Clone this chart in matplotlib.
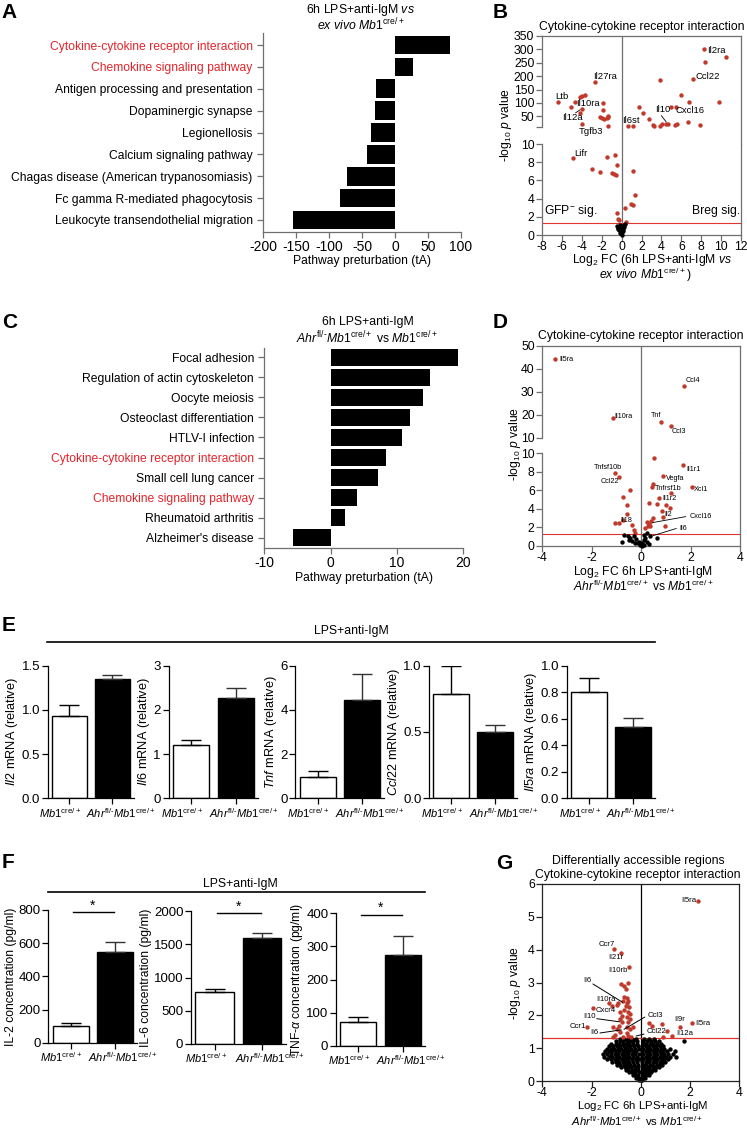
import numpy as np
import matplotlib
matplotlib.use('Agg')
import matplotlib.pyplot as plt
from matplotlib.lines import Line2D
from matplotlib.transforms import ScaledTranslation

plt.rcParams['font.family'] = ['Liberation Sans', 'DejaVu Sans']
plt.rcParams['mathtext.fontset'] = 'custom'
plt.rcParams['mathtext.rm'] = 'Liberation Sans'
plt.rcParams['mathtext.it'] = 'Liberation Sans:italic'
plt.rcParams['mathtext.bf'] = 'Liberation Sans:bold'
plt.rcParams['axes.unicode_minus'] = False

# ---------------- data ----------------
A_labels = ["Cytokine-cytokine receptor interaction", "Chemokine signaling pathway",
            "Antigen processing and presentation", "Dopaminergic synapse", "Legionellosis",
            "Calcium signaling pathway", "Chagas disease (American trypanosomiasis)",
            "Fc gamma R-mediated phagocytosis", "Leukocyte transendothelial migration"]
A_values = [83, 27, -29, -30, -37, -42, -73, -84, -155]

C_labels = ["Focal adhesion", "Regulation of actin cytoskeleton", "Oocyte meiosis",
            "Osteoclast differentiation", "HTLV-I infection",
            "Cytokine-cytokine receptor interaction", "Small cell lung cancer",
            "Chemokine signaling pathway", "Rheumatoid arthritis", "Alzheimer's disease"]
C_values = [19.2, 15.0, 13.9, 12.0, 10.7, 8.3, 7.1, 3.9, 2.1, -5.6]
highlight = ["Cytokine-cytokine receptor interaction", "Chemokine signaling pathway"]

# Panel B volcano (log2FC, -log10 p)
B_sig_x = [8.26, 10.5, 8.4, 7.18, 3.88, -2.7, 5.94, 6.78, 9.8, 4.92, 5.5, 1.75, 2.12, 2.73,
           3.14, 3.24, 3.9, 4.1, 4.5, 4.65, 5.4, 5.55, 6.68, 7.86, 0.6, 1.15,
           -6.4, -5.06, -4.72, -4.15, -3.95, -3.68, -4.0, -4.18, -3.95, -1.85, -1.82, -2.22,
           -2.0, -1.8, -1.4, -1.35, -1.45, -1.35,
           -4.92, -1.45, -0.67, -0.47, -3.0, -2.19, -0.98, -0.78, -0.57, 1.18, 1.32, 0.98,
           1.11, 0.3, -0.5, -0.4, 0.44, -0.3]
B_sig_y = [301, 273, 254, 188, 186, 178, 130, 102, 105, 85, 86, 84, 61, 39,
           18, 14, 14, 22, 21, 22, 16, 20, 30, 16, 14, 14,
           103, 84, 103, 121, 127, 131, 78, 61, 20, 100, 74, 49,
           42, 40, 46, 52, 42, 14,
           8.5, 8.6, 8.8, 7.7, 7.25, 6.9, 6.8, 6.75, 6.55, 7.05, 4.45, 3.45,
           3.25, 3.0, 2.4, 1.8, 1.45, 1.65]
B_ns_x = [-0.5, -0.4, -0.3, -0.2, -0.1, 0.0, 0.1, 0.2, -0.25, 0.05, -0.15, 0.15, -0.35, 0.25, -0.05, 0.3]
B_ns_y = [1.0, 0.8, 0.9, 1.1, 0.6, 0.3, 0.7, 1.1, 0.5, 0.05, 0.2, 0.4, 0.65, 0.85, 0.95, 1.2]
B_genes = ["Il2ra", "Ccl22", "Il27ra", "Ltb", "Il10ra", "Il12a", "Tgfb3", "Il6st", "Il10", "Cxcl16", "Lifr"]
B_gene_x = [8.6, 7.39, -2.87, -6.71, -4.55, -5.97, -4.35, 0.1, 3.37, 5.43, -4.79]
B_gene_y = [295, 197, 199, 123, 97, 46, -7, 35, 77, 72, 8.97]

# Panel D volcano
D_sig_x = [-3.48, 1.75, -1.15, 0.79, 1.22,
           0.53, 1.71, -1.07, -0.88, 0.87, 2.05, -0.45, 0.46, 0.44, 1.19, -0.75, 0.74, 0.33,
           0.63, 0.99, 1.17, -0.59, -0.56, 0.85, 0.9, 0.98, 0.46, 0.33, 0.27, 0.36, 0.22,
           -1.05, -0.9, -0.36, -0.28, -0.25, -0.72, 0.15, 0.4]
D_sig_y = [44.2, 32.7, 18.4, 17.0, 14.9,
           9.5, 8.7, 7.9, 7.4, 7.5, 6.4, 6.0, 6.7, 6.3, 5.7, 5.3, 5.2, 4.6,
           4.5, 4.4, 4.1, 4.4, 3.4, 3.7, 3.1, 2.1, 3.0, 2.4, 2.15, 2.1, 2.6,
           2.45, 2.45, 2.2, 1.7, 1.35, 2.8, 1.9, 2.7]
D_ns_x = [-0.79, -0.69, -0.52, -0.45, -0.38, -0.2, -0.12, -0.05, 0.05, 0.1, 0.11, 0.17, 0.22,
          0.25, 0.3, 0.63, -0.25, -0.5, 0.02, 0.12, -0.08, 0.35, -0.3]
D_ns_y = [0.44, 1.17, 1.1, 0.8, 0.55, 0.75, 0.25, 0.1, 0.3, 0.6, 1.17, 0.85, 1.35,
          0.45, 0.2, 0.88, 0.3, 0.6, 0.02, 0.05, 0.45, 1.0, 1.0]
D_genes = ["Il5ra", "Ccl4", "Il10ra", "Tnf", "Ccl3", "Tnfsf10b", "Ccl22", "Il1r1", "Vegfa",
           "Tnfrsf1b", "Xcl1", "Il1r2", "Il2", "Cxcl16", "Il6", "Il18"]
D_gene_x = [-3.3, 1.8, -1.09, 0.41, 1.25, -1.91, -1.63, 1.81, 1.0, 0.57, 2.14, 0.86, 0.96, 1.95, 1.56, -0.83]
D_gene_y = [44.2, 35.0, 19.4, 19.6, 12.9, 8.5, 6.9, 8.2, 7.3, 6.13, 6.06, 5.07, 3.32, 3.18, 1.9, 2.7]

# Panel E qPCR
E_genes = ["Il2", "Il6", "Tnf", "Ccl22", "Il5ra"]
E_ctrl = [0.93, 1.21, 0.98, 0.79, 0.80]
E_ctrl_err = [0.125, 0.11, 0.27, 0.21, 0.105]
E_ko = [1.35, 2.26, 4.45, 0.50, 0.54]
E_ko_err = [0.05, 0.24, 1.16, 0.055, 0.068]
E_yticks = [[0.0, 0.5, 1.0, 1.5], [0, 1, 2, 3], [0, 2, 4, 6], [0.0, 0.5, 1.0],
            [0.0, 0.2, 0.4, 0.6, 0.8, 1.0]]
E_yticklabels = [["0.0", "0.5", "1.0", "1.5"], ["0", "1", "2", "3"], ["0", "2", "4", "6"],
                 ["0.0", "0.5", "1.0"], ["0.0", "0.2", "0.4", "0.6", "0.8", "1.0"]]

# Panel F ELISA
F_names = ["IL-2", "IL-6", r"TNF-$\alpha$"]
F_ctrl = [100, 786, 72.5]
F_ctrl_err = [17, 36, 13]
F_ko = [549, 1589, 274]
F_ko_err = [60, 75, 58]
F_yticks = [[0, 200, 400, 600, 800], [0, 500, 1000, 1500, 2000], [0, 100, 200, 300, 400]]
F_sig = [785, 1965, 395]

HY = "\u2010"
groups = [r"$\mathit{Mb1}^{\mathrm{cre/+}}$",
          r"$\mathit{Ahr}^{\mathrm{fl/" + HY + r"}}\mathit{Mb1}^{\mathrm{cre/+}}$"]
ahr_vs = (r"$\mathit{Ahr}^{\mathrm{fl/" + HY +
          r"}}\mathit{Mb1}^{\mathrm{cre/+}}$ vs $\mathit{Mb1}^{\mathrm{cre/+}}$")

# Panel G volcano (ATAC)
G_sig = [(2.31, 5.47), (-1.09, 4.01), (-0.82, 3.90), (-0.48, 3.46), (-0.81, 2.94), (-0.68, 2.90),
         (-0.51, 2.97), (-0.62, 2.80), (-0.68, 2.57), (-0.58, 2.52), (-0.51, 2.45), (-0.71, 2.45),
         (-0.58, 2.39), (-0.91, 2.37), (-0.95, 2.30), (-1.16, 2.28), (-0.62, 2.28), (-0.47, 2.24),
         (-0.68, 2.16), (-0.85, 2.11), (-0.51, 2.11), (-0.44, 2.03), (-0.78, 1.99), (-0.58, 1.94),
         (-0.85, 1.88), (-0.44, 1.89), (-0.76, 1.79), (-0.51, 1.79), (-0.87, 1.69), (-0.58, 1.63),
         (-0.98, 1.58), (-0.44, 1.58), (-1.14, 1.65), (-0.85, 1.48), (-0.58, 1.45), (-1.05, 1.40),
         (-0.51, 1.38), (-1.12, 1.33), (-0.71, 1.33), (-0.41, 1.33), (-1.96, 2.22), (-2.17, 1.64),
         (-1.28, 2.39), (-0.30, 1.65),
         (0.35, 1.78), (0.44, 1.68), (0.87, 1.73), (1.08, 1.53), (0.89, 1.33), (1.28, 1.37),
         (1.59, 1.65), (2.06, 1.77)]
# non-significant regions, read row by row (-log10 p, list of log2FC)
G_ns_rows = [
    (0.03, [-0.06, 0.0, 0.06]),
    (0.10, [-0.18, -0.09, 0.08, 0.17]),
    (0.18, [-0.33, -0.22, -0.11, 0.1, 0.21, 0.32]),
    (0.26, [-0.47, -0.35, -0.22, -0.09, 0.08, 0.2, 0.32, 0.42]),
    (0.34, [-0.62, -0.5, -0.37, -0.24, -0.1, 0.07, 0.2, 0.33, 0.46, 0.58]),
    (0.42, [-0.8, -0.66, -0.52, -0.38, -0.24, -0.1, 0.07, 0.21, 0.35, 0.49, 0.63, 0.74]),
    (0.50, [-0.98, -0.84, -0.7, -0.56, -0.42, -0.28, -0.12, 0.08, 0.22, 0.36, 0.5, 0.64, 0.78, 0.88]),
    (0.58, [-1.18, -1.02, -0.88, -0.74, -0.6, -0.46, -0.32, -0.16, 0.06, 0.2, 0.34, 0.48, 0.62,
            0.76, 0.9, 1.0]),
    (0.66, [-1.38, -1.22, -1.06, -0.92, -0.78, -0.64, -0.5, -0.36, -0.2, -0.06, 0.1, 0.24, 0.38,
            0.52, 0.66, 0.8, 0.94, 1.1]),
    (0.74, [-1.48, -1.3, -1.16, -1.02, -0.88, -0.74, -0.6, -0.46, -0.32, -0.16, 0.06, 0.2, 0.34,
            0.48, 0.62, 0.76, 0.9, 1.04, 1.2, 1.43]),
    (0.82, [-1.52, -1.36, -1.2, -1.06, -0.92, -0.78, -0.64, -0.5, -0.36, -0.22, -0.06, 0.1, 0.24,
            0.38, 0.52, 0.66, 0.8, 0.94, 1.1, 1.32]),
    (0.90, [-1.45, -1.3, -1.16, -1.02, -0.88, -0.74, -0.6, -0.46, -0.32, -0.18, 0.06, 0.2, 0.34,
            0.48, 0.62, 0.76, 0.9, 1.06, 1.4]),
    (0.98, [-1.38, -1.22, -1.08, -0.94, -0.8, -0.66, -0.52, -0.38, -0.24, -0.08, 0.1, 0.24, 0.38,
            0.52, 0.66, 0.8, 0.96, 1.18]),
    (1.06, [-1.3, -1.12, -0.98, -0.84, -0.7, -0.56, -0.42, -0.28, -0.12, 0.06, 0.2, 0.34, 0.48,
            0.62, 0.76, 0.92]),
    (1.14, [-1.2, -1.02, -0.88, -0.74, -0.6, -0.46, -0.32, -0.16, 0.08, 0.22, 0.36, 0.5, 0.64, 0.8]),
    (1.22, [-1.02, -0.86, -0.72, -0.58, -0.44, -0.3, -0.14, 0.1, 0.26, 0.42, 0.58, 0.74, 1.77]),
    (1.28, [-0.85, -0.68, -0.52, -0.36, -0.2, 0.14, 0.32, 0.52]),
]
G_genes = ["Il5ra", "Ccr7", "Il21r", "Il10rb", "Il6", "Il10ra", "Cxcr4", "Il10", "Ccr1", "Il6",
           "Ccl3", "Ccl22", "Il9r", "Il5ra", "Il12a"]
G_gene_x = [1.66, -1.70, -1.32, -1.32, -2.33, -1.82, -1.82, -2.33, -2.90, -2.06, 0.26, 0.24, 1.35, 2.2, 1.43]
G_gene_y = [5.49, 4.17, 3.76, 3.38, 3.05, 2.47, 2.16, 1.96, 1.65, 1.49, 2.01, 1.50, 1.86, 1.76, 1.45]

# ---------------- figure ----------------
W, H = 747, 1128
fig = plt.figure(figsize=(W / 100, H / 100), dpi=100)
RED_TXT = '#e4252b'
RED_DOT = '#c0392b'
RED_LINE = '#e0352f'
GREY = '#6f6f6f'


def axpx(l, t, r, b):
    return fig.add_axes([l / W, 1 - b / H, (r - l) / W, (b - t) / H])


def ft(x, y, s, **kw):
    kw.setdefault('ha', 'center')
    kw.setdefault('va', 'center')
    return fig.text(x / W, 1 - y / H, s, **kw)


def spines(ax, color, keep=('left', 'bottom'), lw=0.9):
    for s in ['left', 'right', 'top', 'bottom']:
        if s in keep:
            ax.spines[s].set_color(color)
            ax.spines[s].set_linewidth(lw)
        else:
            ax.spines[s].set_visible(False)
    ax.tick_params(color=color, width=lw, length=4, direction='out')


# panel letters
for letter, x, y in [('A', 1, 18.3), ('B', 492.7, 18.3), ('C', 2, 328.3), ('D', 492.7, 328.3),
                     ('E', 2, 630.7), ('F', 2, 868.3), ('G', 496, 869.3)]:
    ft(x, y, letter, fontsize=15, fontweight='bold', ha='left', va='baseline')

# ---------- Panel A ----------
axA = axpx(263, 33, 461, 232)
yA = np.arange(len(A_labels))
axA.barh(yA, A_values, height=0.85, color='k')
axA.set_xlim(-200, 100)
axA.set_ylim(len(A_labels) - 0.45, -0.55)
axA.set_yticks(yA)
axA.set_yticklabels(A_labels, fontsize=8.7)
axA.set_xticks(np.arange(-200, 101, 50))
spines(axA, GREY)
axA.tick_params(axis='x', labelsize=10, pad=2)
for lab in axA.get_yticklabels():
    if lab.get_text() in highlight:
        lab.set_color(RED_TXT)
ft(360, 10.5, r'6h LPS+anti-IgM $\mathit{vs}$', fontsize=8.8)
ft(361, 25.5, r'$\mathit{ex\ vivo\ Mb1}^{\mathrm{cre/+}}$', fontsize=8.8)
ft(362, 261, 'Pathway preturbation (tA)', fontsize=8.7)

# ---------- Panel C ----------
axC = axpx(264.3, 348, 463.3, 548)
yC = np.arange(len(C_labels))
axC.barh(yC, C_values, height=0.85, color='k')
axC.set_xlim(-10, 20)
axC.set_ylim(len(C_labels) - 0.5, -0.45)
axC.set_yticks(yC)
axC.set_yticklabels(C_labels, fontsize=8.7)
axC.set_xticks([-10, 0, 10, 20])
spines(axC, GREY)
axC.tick_params(axis='x', labelsize=10, pad=2)
for lab in axC.get_yticklabels():
    if lab.get_text() in highlight:
        lab.set_color(RED_TXT)
ft(368, 322.5, '6h LPS+anti-IgM', fontsize=8.8)
ft(367, 338, ahr_vs, fontsize=8.8)
ft(364, 578, 'Pathway preturbation (tA)', fontsize=8.7)


# ---------- broken-axis volcano helper ----------
def broken_volcano(rect, split_px, top_lim, top_ticks, top_labels, bot_ticks, xlim, xticks):
    l, t, r, b = rect
    axt = axpx(l, t, r, split_px)
    axb = axpx(l, split_px, r, b)
    for ax in (axt, axb):
        ax.set_xlim(*xlim)
        ax.axvline(0, color=GREY, lw=0.9, zorder=1)
    spines(axt, GREY, keep=('left', 'right', 'top'))
    spines(axb, GREY, keep=('left', 'right', 'bottom'))
    axt.set_ylim(*top_lim)
    axt.spines['left'].set_bounds(top_ticks[0], top_ticks[-1])
    axt.set_yticks(top_ticks)
    axt.set_yticklabels(top_labels, fontsize=8.8)
    axt.tick_params(bottom=False, labelbottom=False, pad=1.5)
    axb.set_ylim(0, 10)
    axb.set_yticks(bot_ticks)
    axb.tick_params(axis='y', labelsize=8.8, pad=1.5)
    axb.set_xticks(xticks)
    axb.tick_params(axis='x', labelsize=8.8, pad=0.5)
    axb.axhline(1.3, color=RED_LINE, lw=0.8, zorder=1)
    return axt, axb


# ---------- Panel B ----------
axBt, axBb = broken_volcano((542, 36, 741, 235), 144, (-53.5, 350),
                            [10, 50, 100, 150, 200, 250, 300, 350],
                            ['', '50', '100', '150', '200', '250', '300', '350'],
                            [0, 2, 4, 6, 8, 10], (-8, 12), np.arange(-8, 13, 2))
bx, by = np.array(B_sig_x), np.array(B_sig_y)
up = by > 10
axBt.scatter(bx[up], by[up], s=10, color=RED_DOT, lw=0, zorder=3)
axBb.scatter(bx[~up], by[~up], s=10, color=RED_DOT, lw=0, zorder=3, clip_on=False)
axBb.scatter(B_ns_x, B_ns_y, s=10, color='k', lw=0, zorder=3, clip_on=False)
for g, x, y in zip(B_genes, B_gene_x, B_gene_y):
    ax = axBt if g != 'Lifr' else axBb
    ax.text(x, y, g, fontsize=6.8, ha='left', va='center')
axBt.annotate('', xy=(-3.95, 80), xytext=(-4.86, 57), arrowprops=dict(arrowstyle='-', lw=0.6, color='k'))
axBt.annotate('', xy=(4.65, 21), xytext=(3.81, 61), arrowprops=dict(arrowstyle='-', lw=0.6, color='k'))
axBb.text(-7.8, 2.6, r'GFP$^{-}$ sig.', fontsize=8.7, ha='left', va='center')
axBb.text(11.9, 2.6, 'Breg sig.', fontsize=8.7, ha='right', va='center')
ft(642, 27, 'Cytokine-cytokine receptor interaction', fontsize=8.8)
ft(505.5, 125, r'-log$_{10}$ $\mathit{p}$ value', fontsize=8.7, rotation=90)
ft(652, 259.5, r'Log$_2$ FC (6h LPS+anti-IgM $\mathit{vs}$', fontsize=8.7)
ft(645, 275, r'$\mathit{ex\ vivo\ Mb1}^{\mathrm{cre/+}}$)', fontsize=8.7)

# ---------- Panel D ----------
axDt, axDb = broken_volcano((542.3, 346, 740, 545.7), 453.2, (3.24, 50),
                            [10, 20, 30, 40, 50], ['10', '20', '30', '40', '50'],
                            [0, 2, 4, 6, 8, 10], (-4, 4), [-4, -2, 0, 2, 4])
dx, dy = np.array(D_sig_x), np.array(D_sig_y)
up = dy > 10
axDt.scatter(dx[up], dy[up], s=10, color=RED_DOT, lw=0, zorder=3)
axDb.scatter(dx[~up], dy[~up], s=10, color=RED_DOT, lw=0, zorder=3, clip_on=False)
axDb.scatter(D_ns_x, D_ns_y, s=10, color='k', lw=0, zorder=3, clip_on=False)
for g, x, y in zip(D_genes, D_gene_x, D_gene_y):
    ax = axDt if y > 10 else axDb
    ax.text(x, y, g, fontsize=5.2, ha='left', va='center')
axDb.annotate('', xy=(0.36, 2.45), xytext=(1.92, 3.2), arrowprops=dict(arrowstyle='-', lw=0.6, color='k'))
axDb.annotate('', xy=(0.36, 0.99), xytext=(1.53, 1.95), arrowprops=dict(arrowstyle='-', lw=0.6, color='k'))
ft(641, 336, 'Cytokine-cytokine receptor interaction', fontsize=8.8)
ft(515, 444, r'-log$_{10}$ $\mathit{p}$ value', fontsize=8.7, rotation=90)
ft(643, 571.5, r'Log$_2$ FC 6h LPS+anti-IgM', fontsize=8.7)
ft(643, 586.5, ahr_vs, fontsize=8.7)


# ---------- bar panel helper ----------
def bar_panel(rect, ctrl, ctrl_err, ko, ko_err, ylab, yticks, yticklabels, lab_size=9.2):
    ax = axpx(*rect)
    pos = [0, 1]
    ax.bar(pos[0], ctrl, width=0.81, color='white', edgecolor='k', lw=1.0, zorder=2)
    ax.bar(pos[1], ko, width=0.81, color='k', edgecolor='k', lw=1.0, zorder=2)
    ax.errorbar(pos[0], ctrl, yerr=[[0], [ctrl_err]], fmt='none', ecolor='k', elinewidth=1.0,
                capsize=7, capthick=1.0, zorder=3)
    ax.errorbar(pos[1], ko, yerr=[[0], [ko_err]], fmt='none', ecolor='#333333', elinewidth=1.0,
                capsize=7, capthick=1.0, zorder=3)
    ax.set_xlim(-0.5, 1.5)
    ax.set_ylim(yticks[0], yticks[-1])
    ax.set_yticks(yticks)
    ax.set_yticklabels(yticklabels, fontsize=9.5)
    ax.set_xticks(pos)
    spines(ax, 'k')
    ax.tick_params(axis='x', pad=1.5)
    ax.tick_params(axis='y', pad=1.5)
    ax.set_xticklabels(groups, fontsize=8)
    labs = ax.get_xticklabels()
    labs[0].set_transform(labs[0].get_transform() + ScaledTranslation(-9 / 100, 0, fig.dpi_scale_trans))
    labs[1].set_transform(labs[1].get_transform() + ScaledTranslation(8 / 100, 0, fig.dpi_scale_trans))
    ax.set_ylabel(ylab, fontsize=lab_size, labelpad=1)
    return ax


E_rects = [(47.6, 665.7, 134, 798.3), (168.5, 665.7, 258, 798.3), (295.3, 665.7, 384.3, 798.3),
           (429.3, 665.7, 517.3, 798.3), (567, 665.7, 655, 798.3)]
for i, g in enumerate(E_genes):
    bar_panel(E_rects[i], E_ctrl[i], E_ctrl_err[i], E_ko[i], E_ko_err[i],
              r'$\mathit{%s}$ mRNA (relative)' % g, E_yticks[i], E_yticklabels[i])
fig.add_artist(Line2D([46.7 / W, 655 / W], [1 - 641.7 / H, 1 - 641.7 / H], color='k', lw=1.2))
ft(351, 631, 'LPS+anti-IgM', fontsize=8.8)

F_rects = [(48.3, 910, 137.3, 1042.7), (191, 911, 285.7, 1044), (336, 913.3, 425.4, 1045.7)]
for i, n in enumerate(F_names):
    ax = bar_panel(F_rects[i], F_ctrl[i], F_ctrl_err[i], F_ko[i], F_ko_err[i],
                   n + ' concentration (pg/ml)', F_yticks[i], [str(v) for v in F_yticks[i]],
                   lab_size=8.7)
    ax.plot([0.05, 0.98], [F_sig[i], F_sig[i]], color='k', lw=1.0, clip_on=False)
    ax.text(0.5, F_sig[i], '*', ha='center', va='bottom', fontsize=10, clip_on=False)
fig.add_artist(Line2D([48.3 / W, 425 / W], [1 - 892.3 / H, 1 - 892.3 / H], color='k', lw=1.2))
ft(240, 884, 'LPS+anti-IgM', fontsize=8.8)

# ---------- Panel G ----------
axG = axpx(542.3, 884, 739.3, 1081)
axG.set_xlim(-4, 4)
axG.set_ylim(0, 6)
axG.axvline(0, color='k', lw=0.9, zorder=1)
axG.axhline(1.3, color=RED_LINE, lw=0.9, zorder=1)
gns_x = [x for y, xs in G_ns_rows for x in xs]
gns_y = [y for y, xs in G_ns_rows for x in xs]
gs = np.array(G_sig)
axG.scatter(gns_x, gns_y, s=10, color='k', lw=0, zorder=2, clip_on=False)
axG.scatter(gs[:, 0], gs[:, 1], s=10, color=RED_DOT, lw=0, zorder=3)
for g, x, y in zip(G_genes, G_gene_x, G_gene_y):
    axG.text(x, y, g, fontsize=5.6, ha='left', va='center', zorder=4)
for (x0, y0), (x1, y1) in [((-2.04, 3.0), (-0.64, 2.35)), ((-1.9, 1.91), (-0.74, 1.79)),
                           ((-1.77, 1.45), (-0.68, 1.57)), ((0.26, 1.99), (-0.78, 1.53)),
                           ((0.24, 1.45), (-0.3, 1.35))]:
    axG.annotate('', xy=(x1, y1), xytext=(x0, y0), arrowprops=dict(arrowstyle='-', lw=0.7, color='k'))
spines(axG, '#222222', keep=('left', 'right', 'top', 'bottom'))
axG.set_xticks([-4, -2, 0, 2, 4])
axG.set_yticks(range(7))
axG.tick_params(labelsize=8.8, pad=1.5)
axG.tick_params(axis='x', pad=0.3)
ft(638, 861, 'Differentially accessible regions', fontsize=8.8)
ft(638, 875, 'Cytokine-cytokine receptor interaction', fontsize=8.8)
ft(515, 983, r'-log$_{10}$ $\mathit{p}$ value', fontsize=8.7, rotation=90)
ft(643, 1106.3, r'Log$_2$ FC 6h LPS+anti-IgM', fontsize=8.2)
ft(637, 1121, ahr_vs, fontsize=8.2)

fig.savefig('out.png', dpi=100)
